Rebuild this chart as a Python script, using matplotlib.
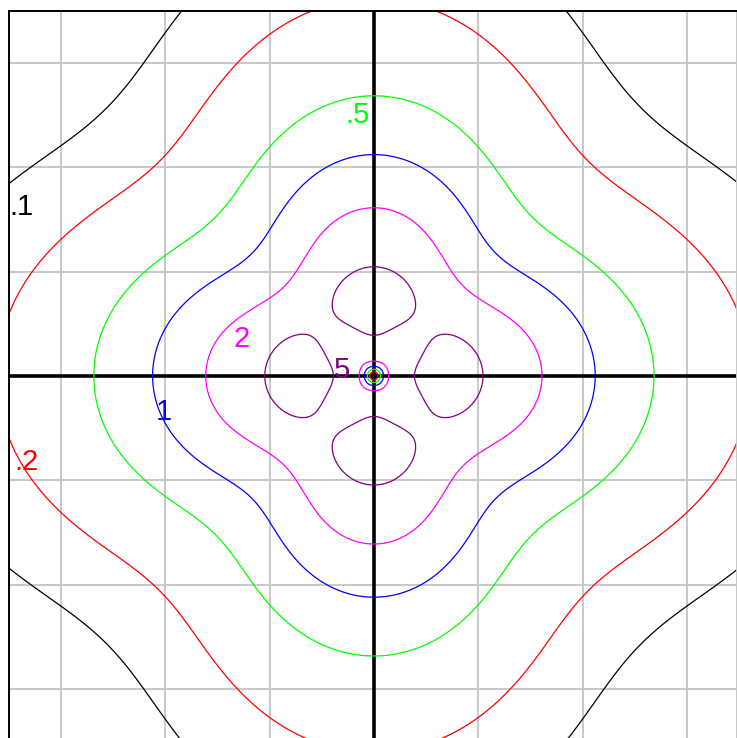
import numpy as np
import matplotlib
matplotlib.use("Agg")
import matplotlib.pyplot as plt

# contour levels, colours and labels
levels = [0.1, 0.2, 0.5, 1, 2, 5]
level_colors = ["#000000", "#ff0000", "#00ff00", "#0000ff", "#ff00ff", "#800080"]
label_text = [".1", ".2", ".5", "1", "2", "5"]
label_pos = [(-6.75, 3.24), (-6.66, -1.65), (-0.32, 5.0),
             (-4.03, -0.69), (-2.54, 0.71), (-0.62, 0.11)]
grid_ticks = [-6, -4, -2, 0, 2, 4, 6]

# field model (estimated from contour crossings on the axes and diagonals)
plateau = 4.06      # background level near the centre
r_knee = 2.78       # radius where the background starts to fall off
far_slope = 3.15    # ~ r^-3.15 fall-off far away
ring_r = 1.5        # radius of the four maxima on the axes
ring_w = 0.47
ring_h = 3.2
k_far = 1.0 / 3     # axis/diagonal ratio of 2 far out
k_r = 1.0
dip_r = 0.35        # width of the zero at the origin

x = np.linspace(-7.3, 7.3, 1801)
X, Y = np.meshgrid(x, x)
R = np.hypot(X, Y)
T = np.arctan2(Y, X)

k = k_far * R**2 / (R**2 + k_r**2)
h = (1 + k * np.cos(4 * T)) / (1 + k)
A = plateau / (1 + (R / r_knee)**5)**(far_slope / 5) \
    + ring_h * np.exp(-(R - ring_r)**2 / (2 * ring_w**2))
D = 1 - np.exp(-(R / dip_r)**2)
F = D * A * h

unit = 52.2  # pixels per unit
x_right = (736.5 - 373.9) / unit
fig = plt.figure(figsize=(7.37, 7.38), dpi=100)
ax = fig.add_axes([8.5 / 737, 1 - 10.5 / 738 - 14 * unit / 738,
                   (736.5 - 8.5) / 737, 14 * unit / 738])
ax.set_xlim(-7, x_right)
ax.set_ylim(-7, 7)

ax.set_xticks(grid_ticks)
ax.set_yticks(grid_ticks)
ax.tick_params(length=0, labelbottom=False, labelleft=False)
ax.grid(True, color="#c8c8c8", linewidth=1.4, zorder=0)
ax.set_axisbelow(True)
ax.spines["bottom"].set_visible(False)
ax.spines["right"].set_color("#c8c8c8")
ax.spines["right"].set_linewidth(1.4)
for side in ["left", "top"]:
    ax.spines[side].set_linewidth(1.4)

ax.axhline(0, color="black", linewidth=2.6, zorder=1)
ax.axvline(0, color="black", linewidth=2.6, zorder=1)

ax.contour(X, Y, F, levels=levels, colors=level_colors, linewidths=0.9, zorder=2)

for txt, (tx, ty), col in zip(label_text, label_pos, level_colors):
    ax.text(tx, ty, txt, color=col, fontsize=21, family="Liberation Sans",
            ha="center", va="center", zorder=3)

fig.savefig("out.png", dpi=100)
